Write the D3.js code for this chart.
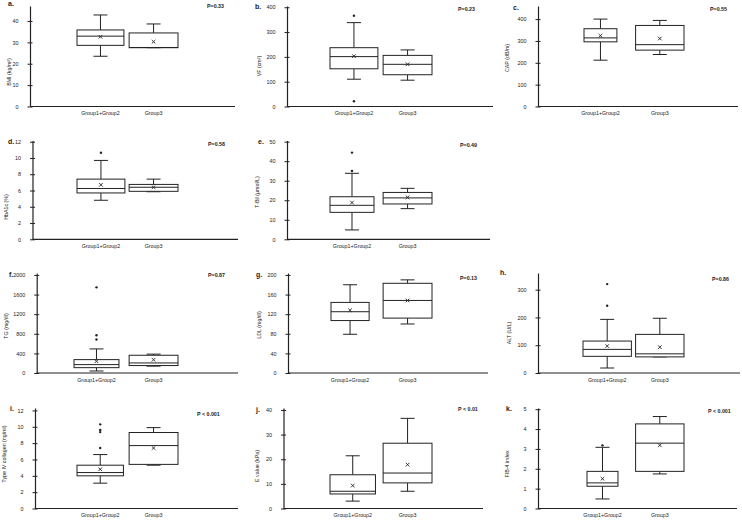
<!DOCTYPE html>
<html><head><meta charset="utf-8">
<script src="https://cdn.jsdelivr.net/npm/d3@7"></script>
<style>
body{margin:0;background:#fff}
svg{display:block}
text{font-family:"Liberation Sans",Arial,sans-serif;fill:#222}
</style>
</head><body>
<svg id="chart" width="742" height="521"></svg>
<script>
// ---------------- DATA ----------------
const categories = ["Group1+Group2", "Group3"];
const panelLetters = ["a.", "b.", "c.", "d.", "e.", "f.", "g.", "h.", "i.", "j.", "k."];
const yTitles = ["BMI  (kg/m²)", "VF  (cm²)", "CAP  (dB/m)", "HbA1c  (%)", "T-Bil  (μmol/L)",
  "TG  (mg/dl)", "LDL  (mg/dl)", "ALT  (U/L)", "Type IV collagen  (ng/ml)", "E value  (kPa)", "FIB-4 index"];
const pLabels = ["P=0.33", "P=0.23", "P=0.55", "P=0.58", "P=0.49", "P=0.87", "P=0.13", "P=0.86",
  "P < 0.001", "P < 0.01", "P < 0.001"];

// stats per group: [whiskerLow, Q1, median, Q3, whiskerHigh, mean]
const bmiStats   = [[23.5, 28.6, 32.9, 35.8, 42.8, 32.6], [27.5, 27.5, 27.6, 34.4, 38.6, 30.3]];
const vfStats    = [[110, 152, 201, 237, 338, 203], [106, 128, 170, 206, 228, 170]];
const capStats   = [[212, 296, 314, 356, 400, 324], [238, 258, 283, 371, 394, 311]];
const hba1cStats = [[4.8, 5.7, 6.25, 7.4, 9.7, 6.7], [5.85, 5.9, 6.4, 6.75, 7.4, 6.4]];
const tbilStats  = [[4.8, 13.8, 17.4, 21.8, 33.8, 18.8], [15.7, 18.1, 21.2, 24.0, 26.1, 21.5]];
const tgStats    = [[41, 109, 171, 273, 491, 239], [140, 152, 205, 362, 385, 270]];
const ldlStats   = [[79, 107, 125, 144, 180, 128], [100, 112, 148, 183, 190, 148]];
const altStats   = [[18, 60, 85, 115, 193, 97], [58, 58, 69, 139, 197, 93]];
const col4Stats  = [[3.1, 4.0, 4.4, 5.3, 6.6, 4.8], [5.3, 5.4, 7.7, 9.3, 9.9, 7.4]];
const eStats     = [[3.0, 5.9, 7.0, 13.7, 21.4, 9.3], [7.0, 10.4, 14.4, 26.5, 36.6, 17.8]];
const fibStats   = [[0.48, 1.12, 1.29, 1.87, 3.08, 1.5], [1.74, 1.87, 3.29, 4.26, 4.63, 3.18]];

const bmiOut   = [[], []];
const vfOut    = [[366, 21], []];
const capOut   = [[], []];
const hba1cOut = [[10.65], []];
const tbilOut  = [[44.4, 35.0], []];
const tgOut    = [[1747, 771, 683], []];
const ldlOut   = [[], []];
const altOut   = [[320, 242], []];
const col4Out  = [[10.3, 9.6, 9.35, 7.4], []];
const eOut     = [[], []];
const fibOut   = [[3.18], []];

const yTicks = [
  [0, 10, 20, 30, 40], [0, 100, 200, 300, 400], [0, 100, 200, 300, 400],
  [0, 2, 4, 6, 8, 10, 12], [0, 10, 20, 30, 40, 50],
  [0, 400, 800, 1200, 1600, 2000], [0, 40, 80, 120, 160, 200], [0, 100, 200, 300],
  [0, 2, 4, 6, 8, 10, 12], [0, 10, 20, 30, 40], [0, 1, 2, 3, 4, 5]
];
const yMax = [47, 405, 460, 12.15, 50.6, 2040, 204, 360, 12.3, 40.8, 5.06];

// ---------------- LAYOUT ----------------
const panelRow = [0, 0, 0, 1, 1, 2, 2, 2, 3, 3, 3];
const panelCol = [0, 1, 2, 0, 1, 0, 1, 2, 0, 1, 2];
const rowTop  = [6, 140.5, 273, 408];
const rowBase = [106.5, 239.3, 373, 508.5];
const colBand = [[76, 178], [330, 432], [583, 684]];
const axisX     = [30, 287, 538, 32.5, 287, 36.7, 288, 538, 35, 283.5, 538];
const axisRight = [235, 493, 738, 238, 490, 238, 488, 740, 238, 483, 737];
const box1Frac  = [0.96, 0.98, 0.68, 0.98, 0.9, 0.92, 0.78, 1, 0.95, 0.93, 0.64];
const box1Shift = [1, 0, 1, 1, 0, -2, 1, 0, 1, 0, 4];
const titleX = [10, 260, 508, 7, 258, 7, 260, 510, 5, 258, 508];
const titleY = [72, 66, 58, 207, 192, 326, 325, 333, 454, 466, 464];
const letterPos = [[8, 4], [255, 7], [513, 8], [8, 142], [258, 142], [9, 275], [256, 275], [500, 273], [10, 409], [256, 410], [506, 409]];
const pPos = [[207, 7], [458, 10], [710, 10], [208, 145], [460, 146], [208, 276], [460, 279], [712, 280], [197, 415], [458, 410], [708, 412]];

const statsList = [bmiStats, vfStats, capStats, hba1cStats, tbilStats, tgStats, ldlStats, altStats, col4Stats, eStats, fibStats];
const outList = [bmiOut, vfOut, capOut, hba1cOut, tbilOut, tgOut, ldlOut, altOut, col4Out, eOut, fibOut];

const INK = "#222";
const svg = d3.select("#chart");

for (let p = 0; p < 11; p++) {
  const r = panelRow[p], c = panelCol[p];
  const g = svg.append("g");
  const y = d3.scaleLinear().domain([0, yMax[p]]).range([rowBase[r], rowTop[r]]);
  const x = d3.scaleBand().domain(categories).range(colBand[c]).paddingInner(0.08);

  // y axis
  const ax = g.append("g")
    .attr("transform", `translate(${axisX[p]},0)`)
    .call(d3.axisLeft(y).tickValues(yTicks[p]).tickSizeInner(2.5).tickSizeOuter(0).tickPadding(9).tickFormat(d3.format("d")))
    .attr("font-size", 5.4).attr("font-family", "Liberation Sans, Arial, sans-serif");
  ax.select(".domain").attr("stroke", INK).attr("stroke-width", 1.2);
  ax.selectAll(".tick line").attr("x1", 2.5).attr("stroke", INK).attr("stroke-width", 1);
  ax.selectAll(".tick text").attr("fill", INK);

  // x axis line
  g.append("line")
    .attr("x1", axisX[p]).attr("x2", axisRight[p])
    .attr("y1", rowBase[r]).attr("y2", rowBase[r])
    .attr("stroke", INK).attr("stroke-width", 1.2);

  // y title
  g.append("text")
    .attr("transform", `translate(${titleX[p]},${titleY[p]}) rotate(-90)`)
    .attr("text-anchor", "middle").attr("dominant-baseline", "middle")
    .attr("font-size", 5.3).text(yTitles[p]);

  // panel letter
  g.append("text")
    .attr("x", letterPos[p][0]).attr("y", letterPos[p][1])
    .attr("dominant-baseline", "middle")
    .attr("font-family", "Liberation Serif, serif").attr("font-weight", "bold")
    .attr("font-size", 7).text(panelLetters[p]);

  // P label
  g.append("text")
    .attr("x", pPos[p][0]).attr("y", pPos[p][1])
    .attr("dominant-baseline", "middle").attr("font-weight", "bold")
    .attr("font-size", 5.3).text(pLabels[p]);

  categories.forEach((cat, i) => {
    const s = statsList[p][i];
    const bw = x.bandwidth();
    const w = i === 0 ? bw * box1Frac[p] : bw;
    const x0 = i === 0 ? x(cat) + box1Shift[p] : x(cat);
    const cx = x0 + w / 2;
    const capHalf = 7;
    const bg = g.append("g").attr("stroke", INK).attr("fill", "none").attr("stroke-width", 1);

    // whiskers
    bg.append("line").attr("x1", cx).attr("x2", cx).attr("y1", y(s[4])).attr("y2", y(s[3]));
    bg.append("line").attr("x1", cx).attr("x2", cx).attr("y1", y(s[1])).attr("y2", y(s[0]));
    bg.append("line").attr("x1", cx - capHalf).attr("x2", cx + capHalf).attr("y1", y(s[4])).attr("y2", y(s[4]));
    bg.append("line").attr("x1", cx - capHalf).attr("x2", cx + capHalf).attr("y1", y(s[0])).attr("y2", y(s[0]));
    // box
    bg.append("rect").attr("x", x0).attr("y", y(s[3])).attr("width", w).attr("height", y(s[1]) - y(s[3]))
      .attr("fill", "#fff");
    // median
    bg.append("line").attr("x1", x0).attr("x2", x0 + w).attr("y1", y(s[2])).attr("y2", y(s[2]));
    // mean marker
    const my = y(s[5]), m = 1.8;
    bg.append("line").attr("x1", cx - m).attr("x2", cx + m).attr("y1", my - m).attr("y2", my + m).attr("stroke-width", 0.9);
    bg.append("line").attr("x1", cx - m).attr("x2", cx + m).attr("y1", my + m).attr("y2", my - m).attr("stroke-width", 0.9);
    // outliers
    g.selectAll(null).data(outList[p][i]).enter().append("circle")
      .attr("cx", cx).attr("cy", d => y(d)).attr("r", 1.2).attr("fill", INK);

    // group label
    g.append("text")
      .attr("x", cx).attr("y", rowBase[r] + 7.5)
      .attr("text-anchor", "middle").attr("dominant-baseline", "middle")
      .attr("font-size", 5.3).text(cat);
  });
}
</script>
</body></html>
